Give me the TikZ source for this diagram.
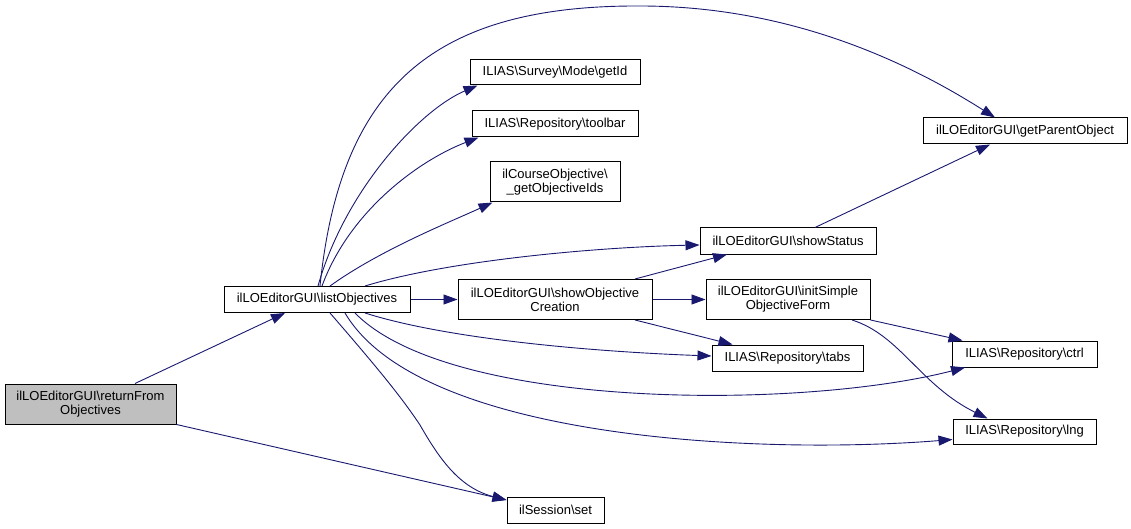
\documentclass[tikz,border=0pt]{standalone}
\usepackage{fontspec}
\setmainfont{Liberation Sans}
\usetikzlibrary{arrows.meta}

\definecolor{edgeblue}{RGB}{25,25,112}
\definecolor{greycustom}{RGB}{191,191,191}
\newcommand{\bsl}{\textbackslash}

\begin{document}
\begin{tikzpicture}[x=1pt, y=-1pt,
        fnbox/.style={draw=black, line width=1pt, fill=white, rectangle, inner sep=0pt, minimum height=26pt, align=center, font=\fontsize{13}{14}\selectfont},
        callarrow/.style={draw=edgeblue, line width=0.9pt, -{Triangle[length=14pt, width=10pt]}}]
        \useasboundingbox (0,0) rectangle (1131,529);

        % Define the boxes of the functions
        \node[fnbox, fill=greycustom, minimum width=171pt, minimum height=40pt] (returnfrom) at (90.5,404) {ilLOEditorGUI\bsl returnFrom\\Objectives};
        \node[fnbox, minimum width=186pt] (listobj) at (317,299.5) {ilLOEditorGUI\bsl listObjectives};
        \node[fnbox, minimum width=170pt, minimum height=25pt] (getid) at (555,72.5) {ILIAS\bsl Survey\bsl Mode\bsl getId};
        \node[fnbox, minimum width=166pt] (toolbar) at (555,124) {ILIAS\bsl Repository\bsl toolbar};
        \node[fnbox, minimum width=130pt, minimum height=40pt] (objids) at (555,182) {ilCourseObjective\bsl\\\_getObjectiveIds};
        \node[fnbox, minimum width=176pt] (showstatus) at (788,241) {ilLOEditorGUI\bsl showStatus};
        \node[fnbox, minimum width=194pt, minimum height=40pt] (showcreation) at (555,299.5) {ilLOEditorGUI\bsl showObjective\\Creation};
        \node[fnbox, minimum width=164pt, minimum height=40pt] (initsimple) at (788,299.5) {ilLOEditorGUI\bsl initSimple\\ObjectiveForm};
        \node[fnbox, minimum width=151pt] (tabs) at (787.5,358) {ILIAS\bsl Repository\bsl tabs};
        \node[fnbox, minimum width=204pt] (parentobj) at (1025,131) {ilLOEditorGUI\bsl getParentObject};
        \node[fnbox, minimum width=145pt] (ctrl) at (1024.5,354) {ILIAS\bsl Repository\bsl ctrl};
        \node[fnbox, minimum width=143pt, minimum height=25pt] (lng) at (1024.5,431.5) {ILIAS\bsl Repository\bsl lng};
        \node[fnbox, minimum width=97pt] (session) at (555.5,510) {ilSession\bsl set};

        % Draw the calls of returnFromObjectives
        \draw[callarrow] ([xshift=44.5pt]returnfrom.north) -- ([xshift=-32pt]listobj.south);
        \draw[callarrow] (returnfrom.south east) -- ([yshift=10pt]session.west);

        % Draw the calls of listObjectives
        \draw[callarrow] ([xshift=3pt]listobj.north) .. controls (340,90) and (430,5) .. (640,6) .. controls (800,6) and (920,70) .. ([xshift=-30pt]parentobj.north);
        \draw[callarrow] ([xshift=1pt]listobj.north) .. controls (345,190) and (420,110) .. ([xshift=8pt]getid.south west);
        \draw[callarrow] ([xshift=5pt]listobj.north) .. controls (350,210) and (420,160) .. ([xshift=7pt]toolbar.south west);
        \draw[callarrow] ([xshift=13pt]listobj.north) .. controls (380,250) and (450,222) .. ([xshift=3pt]objids.south west);
        \draw[callarrow] ([xshift=48pt]listobj.north) .. controls (450,260) and (600,247) .. ([yshift=-4pt]showstatus.west);
        \draw[callarrow] (listobj.east) -- (showcreation.west);
        \draw[callarrow] ([xshift=48pt]listobj.south) .. controls (450,340) and (600,352) .. ([yshift=2pt]tabs.west);
        \draw[callarrow] ([xshift=38pt]listobj.south) .. controls (450,410) and (800,410) .. ([xshift=-59.5pt]ctrl.south);
        \draw[callarrow] ([xshift=28pt]listobj.south) .. controls (420,440) and (760,455) .. ([yshift=-8pt]lng.west);
        \draw[callarrow] ([xshift=13pt]listobj.south) .. controls (375,365) and (400,395) .. (420,425) .. controls (440,460) and (460,488) .. ([yshift=10pt]session.west);

        % Draw the calls of showObjectiveCreation
        \draw[callarrow] ([xshift=80pt]showcreation.north) -- ([xshift=-61pt]showstatus.south);
        \draw[callarrow] (showcreation.east) -- (initsimple.west);
        \draw[callarrow] ([xshift=80pt]showcreation.south) -- ([xshift=-55pt]tabs.north);

        % Draw the remaining calls
        \draw[callarrow] ([xshift=27pt]showstatus.north) -- ([xshift=-35pt]parentobj.south);
        \draw[callarrow] (initsimple.south east) -- ([xshift=-62pt]ctrl.north);
        \draw[callarrow] ([xshift=64pt]initsimple.south) .. controls (900,335) and (920,385) .. ([xshift=-37pt]lng.north);
    \end{tikzpicture}
\end{document}
